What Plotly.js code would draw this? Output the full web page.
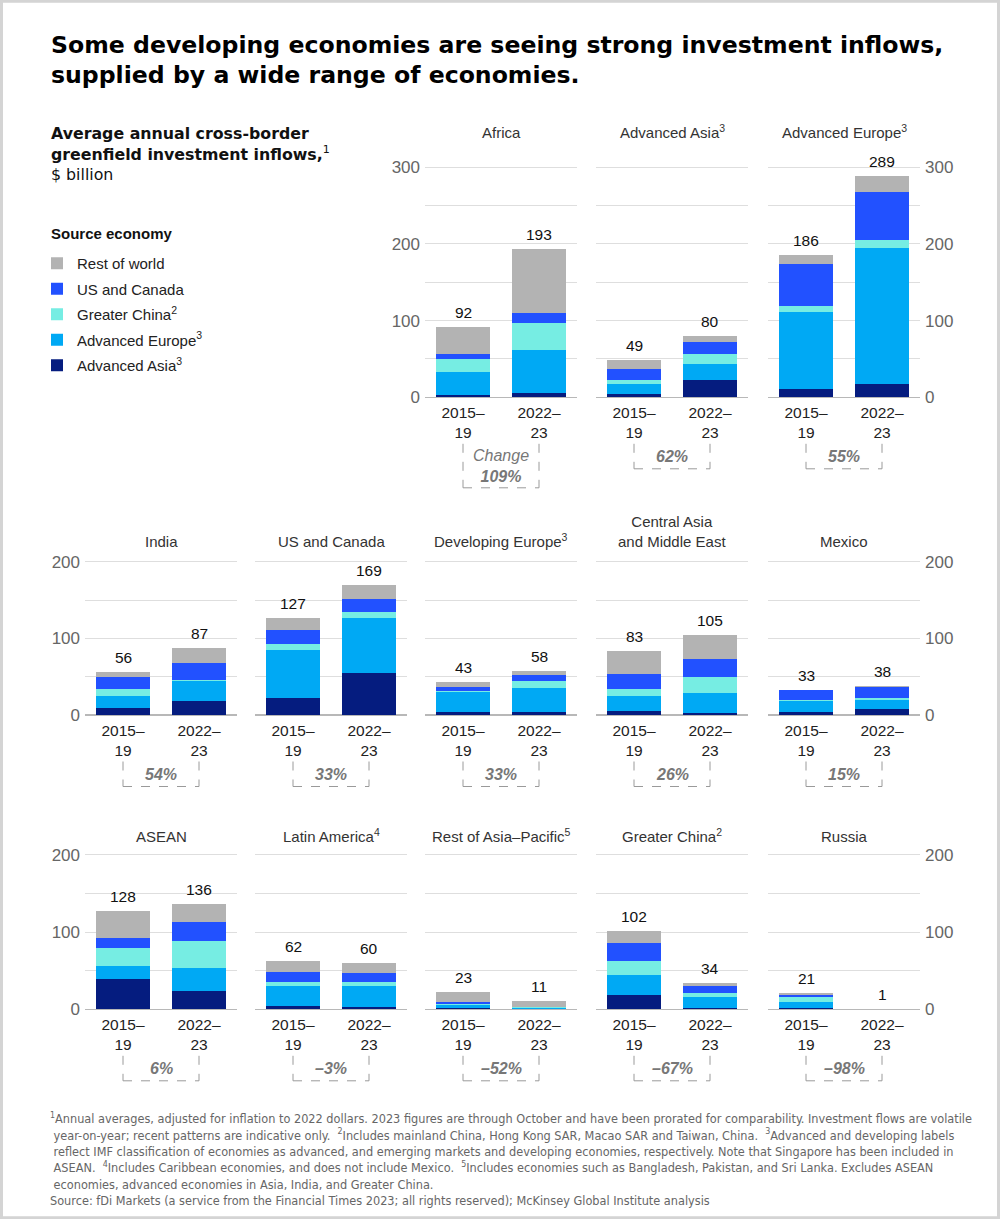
<!DOCTYPE html>
<html>
<head>
<meta charset="utf-8">
<script src="https://cdn.plot.ly/plotly-3.0.1.min.js"></script>
<style>
html,body{margin:0;padding:0;background:#fff;}
#chart{width:1000px;height:1219px;}
</style>
</head>
<body>
<div id="chart"></div>
<script>
// ---------------- DATA ----------------
const periods = ['2015–19', '2022–23'];
const periodLabels = ['2015–<br>19', '2022–<br>23'];

const panelNames = ['Africa', 'Advanced Asia<sup>3</sup>', 'Advanced Europe<sup>3</sup>',
  'India', 'US and Canada', 'Developing Europe<sup>3</sup>', 'Central Asia<br>and Middle East', 'Mexico',
  'ASEAN', 'Latin America<sup>4</sup>', 'Rest of Asia–Pacific<sup>5</sup>', 'Greater China<sup>2</sup>', 'Russia'];

const seriesNames = ['Advanced Asia<sup>3</sup>', 'Advanced Europe<sup>3</sup>', 'Greater China<sup>2</sup>', 'US and Canada', 'Rest of world'];

// values per panel: [2015–19, 2022–23], $ billion
const advancedAsia   = [[3.5,6],[4,22.5],[10.5,18],[9,18],[22,55],[4,4],[5,3],[4,8],[39,24],[4,3],[2,0.5],[18.5,2],[1.5,0]];
const advancedEurope = [[29.5,56],[14,21.5],[100.5,177],[16,26.5],[62.5,71.5],[26,31],[20,26],[14.5,11.5],[17.5,29],[26.5,27.5],[3,1.5],[26,14.5],[8.5,0.3]];
const greaterChina   = [[17,35],[5,12],[8.5,10],[9.5,1],[8.5,8],[1.5,9],[8.5,21],[1.5,3],[23,36],[5,5],[2.5,0.5],[18.5,5],[5.5,0]];
const usCanada       = [[6.5,12.5],[14,15.5],[54.5,63],[14.5,22.5],[17.5,16.5],[5.5,8.5],[20,23],[12,13.5],[13.5,24],[13,12],[2,1],[22.5,8.5],[2.5,0]];
const restOfWorld    = [[35.5,83.5],[12,8.5],[12,21],[7,19],[16.5,18],[6,5.5],[29.5,32],[1,2],[35,23],[13.5,12.5],[13.5,7.5],[16.5,4],[3,0.7]];

const totals = [[92,193],[49,80],[186,289],[56,87],[127,169],[43,58],[83,105],[33,38],[128,136],[62,60],[23,11],[102,34],[21,1]];
const changes = ['109%','62%','55%','54%','33%','33%','26%','15%','6%','–3%','–52%','–67%','–98%'];

const footnote = '<sup>1</sup>Annual averages, adjusted for inflation to 2022 dollars. 2023 figures are through October and have been prorated for comparability. Investment flows are volatile<br>' +
  ' year-on-year; recent patterns are indicative only.  <sup>2</sup>Includes mainland China, Hong Kong SAR, Macao SAR and Taiwan, China.  <sup>3</sup>Advanced and developing labels<br>' +
  ' reflect IMF classification of economies as advanced, and emerging markets and developing economies, respectively. Note that Singapore has been included in<br>' +
  ' ASEAN.  <sup>4</sup>Includes Caribbean economies, and does not include Mexico.  <sup>5</sup>Includes economies such as Bangladesh, Pakistan, and Sri Lanka. Excludes ASEAN<br>' +
  ' economies, advanced economies in Asia, India, and Greater China.<br>' +
  'Source: fDi Markets (a service from the Financial Times 2023; all rights reserved); McKinsey Global Institute analysis';

// ---------------- STYLE / LAYOUT ----------------
const seriesData = [advancedAsia, advancedEurope, greaterChina, usCanada, restOfWorld];
const seriesColors = ['#051c7f', '#00a9f4', '#76ede3', '#2251ff', '#b3b3b3'];

const W = 1000, H = 1219;
const fx = p => p / W;
const fy = p => 1 - p / H;
const colStart = [85, 255, 425, 596, 768];
const colW = 152;
const rows = [
  {top: 167.3, bot: 397.3, max: 300, titleBottom: 143},
  {top: 561.7, bot: 715, max: 200, titleBottom: 552},
  {top: 855, bot: 1009.3, max: 200, titleBottom: 847}
];
const FONT = '"Liberation Sans", Arial, sans-serif';
const HEAD = '"DejaVu Sans", "Liberation Sans", sans-serif';

function panelPos(i) {
  if (i < 3) return {row: 0, col: i + 2};
  if (i < 8) return {row: 1, col: i - 3};
  return {row: 2, col: i - 8};
}

const traces = [];
const layout = {
  width: W, height: H,
  margin: {l: 0, r: 0, t: 0, b: 0},
  paper_bgcolor: '#fff', plot_bgcolor: 'rgba(0,0,0,0)',
  barmode: 'stack',
  showlegend: true,
  font: {family: FONT, color: '#222'},
  legend: {
    x: fx(37), y: fy(247), xanchor: 'left', yanchor: 'top',
    traceorder: 'grouped', tracegroupgap: 3,
    font: {size: 15, color: '#222', family: FONT},
    bgcolor: 'rgba(0,0,0,0)', itemclick: false
  },
  annotations: [],
  shapes: []
};

// legend order top to bottom: Rest of world ... Advanced Asia
const legendOrder = [4, 3, 2, 1, 0];

for (let i = 0; i < panelNames.length; i++) {
  const p = panelPos(i);
  const r = rows[p.row];
  const sfx = i === 0 ? '' : String(i + 1);
  const xa = 'x' + sfx, ya = 'y' + sfx;
  const x0 = colStart[p.col];

  seriesData.forEach((s, k) => {
    traces.push({
      type: 'bar', x: periods, y: s[i],
      xaxis: xa, yaxis: ya,
      name: seriesNames[k], legendgroup: 'g' + k,
      legendrank: legendOrder.indexOf(k) + 1,
      showlegend: i === 0,
      marker: {color: seriesColors[k], line: {width: 0}},
      width: 0.72, hoverinfo: 'y+name'
    });
  });

  const tv = [];
  for (let v = 0; v <= r.max; v += 100) tv.push(v);
  const leftmost = p.col === 0 || (p.row === 0 && p.col === 2);
  const rightmost = p.col === 4;
  const rmax = r.max * 1.04;
  const topPx = r.bot - (r.bot - r.top) * rmax / r.max;

  layout['xaxis' + sfx] = {
    domain: [fx(x0), fx(x0 + colW)], anchor: ya,
    type: 'category', categoryarray: periods, range: [-0.5, 1.5],
    tickvals: periods, ticktext: periodLabels,
    tickfont: {size: 15.5, color: '#222', family: FONT},
    ticklabelstandoff: 4,
    showgrid: false, zeroline: false, showline: false, ticks: '',
    fixedrange: true
  };
  layout['yaxis' + sfx] = {
    domain: [fy(r.bot), fy(topPx)], anchor: xa,
    range: [0, rmax], tickvals: tv,
    showticklabels: leftmost || rightmost,
    side: rightmost ? 'right' : 'left',
    tickfont: {size: 17, color: '#666', family: FONT},
    ticklabelstandoff: 4,
    showgrid: true, gridcolor: '#dedede', gridwidth: 1,
    minor: {dtick: 50, tick0: 0, showgrid: true, gridcolor: '#dedede', gridwidth: 1, ticks: ''},
    zeroline: true, zerolinecolor: '#b8b8b8', zerolinewidth: 1.5,
    showline: false, ticks: '', fixedrange: true
  };

  // panel title
  layout.annotations.push({
    xref: 'paper', yref: 'paper', x: fx(x0 + colW / 2), y: fy(r.titleBottom),
    xanchor: 'center', yanchor: 'bottom', showarrow: false,
    text: panelNames[i], font: {size: 15, color: '#333', family: FONT}
  });

  // totals
  for (let j = 0; j < 2; j++) {
    layout.annotations.push({
      xref: xa, yref: ya, x: periods[j], y: totals[i][j],
      xanchor: 'center', yanchor: 'bottom', yshift: 4, showarrow: false,
      text: String(totals[i][j]), font: {size: 15.5, color: '#111', family: FONT}
    });
  }

  // change bracket
  const bTop = fy(r.bot + 46.5), bBot = fy(r.bot + (i === 0 ? 90.5 : 71.5));
  const dl = {color: '#9a9a9a', width: 1, dash: 'dash'};
  layout.shapes.push({type: 'line', xref: xa, yref: 'paper', x0: 0, x1: 0, y0: bTop, y1: bBot, line: dl});
  layout.shapes.push({type: 'line', xref: xa, yref: 'paper', x0: 1, x1: 1, y0: bTop, y1: bBot, line: dl});
  layout.shapes.push({type: 'line', xref: xa, yref: 'paper', x0: 0, x1: 1, y0: bBot, y1: bBot, line: dl});
  const pctText = i === 0 ? '<i>Change</i><br><b><i>' + changes[i] + '</i></b>' : '<b><i>' + changes[i] + '</i></b>';
  layout.annotations.push({
    xref: xa, yref: 'paper', x: 0.5, y: (bTop + bBot) / 2,
    xanchor: 'center', yanchor: 'middle', showarrow: false,
    text: pctText, font: {size: 16, color: '#777', family: FONT}
  });
}

// Header texts
layout.annotations.push({
  xref: 'paper', yref: 'paper', x: fx(49), y: fy(45), xanchor: 'left', yanchor: 'middle', align: 'left',
  showarrow: false,
  text: '<b>Some developing economies are seeing strong investment inflows,</b>',
  font: {size: 23.6, color: '#000', family: HEAD}
});
layout.annotations.push({
  xref: 'paper', yref: 'paper', x: fx(49), y: fy(75), xanchor: 'left', yanchor: 'middle', align: 'left',
  showarrow: false,
  text: '<b>supplied by a wide range of economies.</b>',
  font: {size: 23.6, color: '#000', family: HEAD}
});
layout.annotations.push({
  xref: 'paper', yref: 'paper', x: fx(49), y: fy(122), xanchor: 'left', yanchor: 'top', align: 'left',
  showarrow: false,
  text: '<b>Average annual cross-border<br>greenfield investment inflows,</b><sup>1</sup><br>$ billion',
  font: {size: 15.8, color: '#111', family: HEAD}
});
layout.annotations.push({
  xref: 'paper', yref: 'paper', x: fx(49), y: fy(233), xanchor: 'left', yanchor: 'middle', align: 'left',
  showarrow: false,
  text: '<b>Source economy</b>',
  font: {size: 15, color: '#111', family: FONT}
});
layout.annotations.push({
  xref: 'paper', yref: 'paper', x: fx(48), y: fy(1108), xanchor: 'left', yanchor: 'top', align: 'left',
  showarrow: false,
  text: footnote,
  font: {size: 12.6, color: '#666', family: '"Liberation Sans Narrow", "DejaVu Sans Condensed", sans-serif'}
});

// outer frame
layout.shapes.push({
  type: 'rect', xref: 'paper', yref: 'paper', x0: 0.0015, x1: 0.9985, y0: 0.001, y1: 0.999,
  line: {color: '#d4d4d4', width: 3}, fillcolor: 'rgba(0,0,0,0)'
});

Plotly.newPlot('chart', traces, layout, {staticPlot: true, displayModeBar: false});
</script>
</body>
</html>
